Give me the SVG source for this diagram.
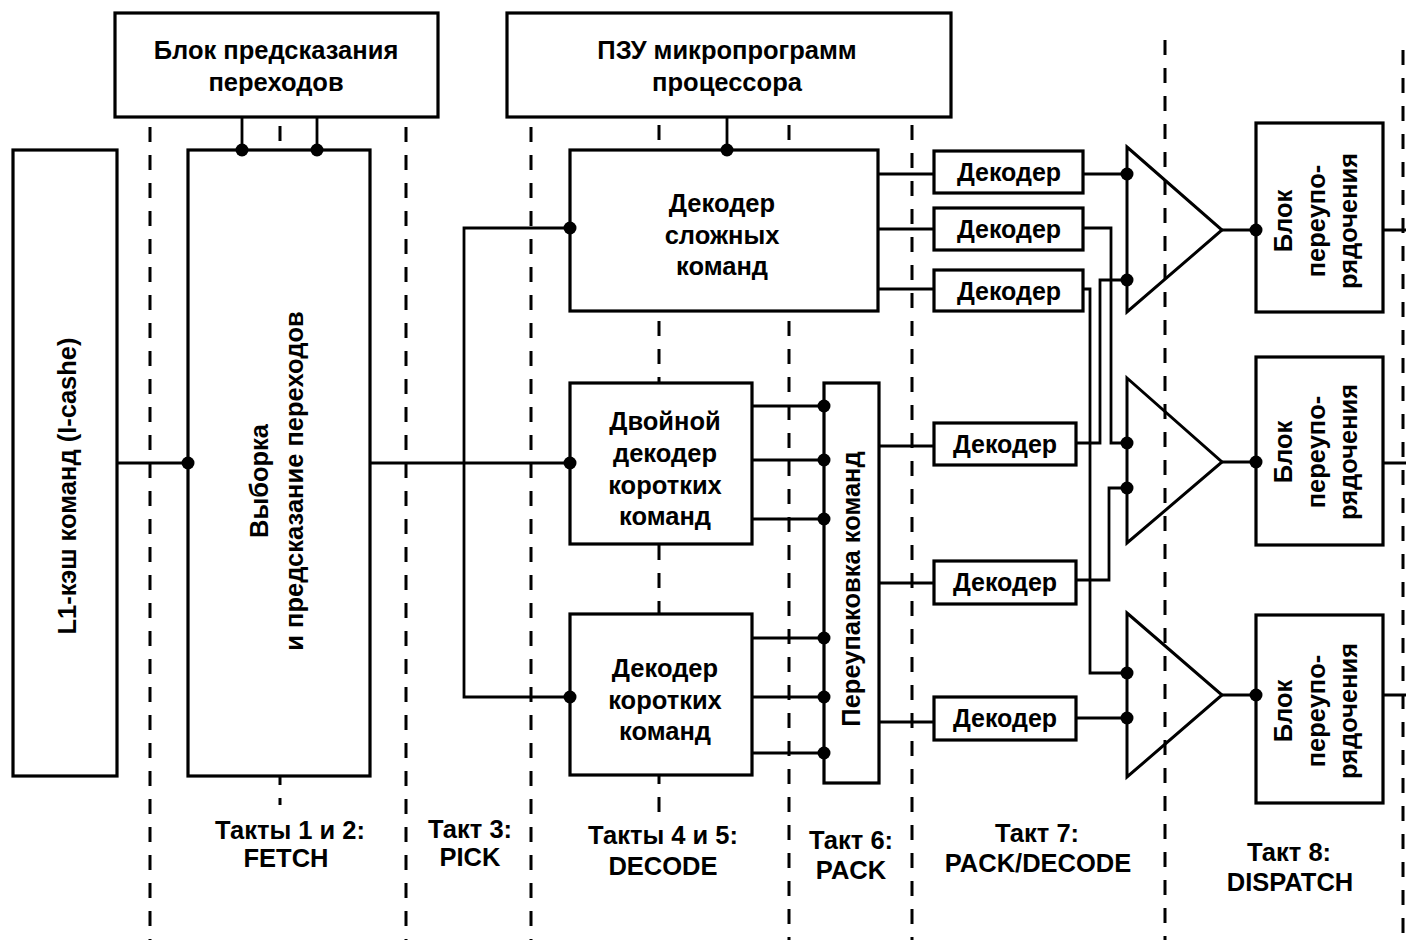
<svg xmlns="http://www.w3.org/2000/svg" width="1406" height="951" viewBox="0 0 1406 951">
<style>
.box{fill:#fff;stroke:#000;stroke-width:3.2}
.tri{fill:none;stroke:#000;stroke-width:3}
.ln{fill:none;stroke:#000;stroke-width:2.8}
.dash{fill:none;stroke:#000;stroke-width:3;stroke-dasharray:15 13}
.dot{fill:#000}
.t{font-family:"Liberation Sans",Arial,sans-serif;font-size:25.5px;font-weight:bold;text-anchor:middle;fill:#000}
.s{font-size:25px}
</style>
<rect width="1406" height="951" fill="#fff"/>
<g id="separators">
<line class="dash" x1="150" y1="127" x2="150" y2="940"/>
<line class="dash" x1="280" y1="126" x2="280" y2="805"/>
<line class="dash" x1="406" y1="127" x2="406" y2="940"/>
<line class="dash" x1="531" y1="127" x2="531" y2="940"/>
<line class="dash" x1="659" y1="125" x2="659" y2="818"/>
<line class="dash" x1="789" y1="125" x2="789" y2="940"/>
<line class="dash" x1="912" y1="125" x2="912" y2="940"/>
<line class="dash" x1="1165" y1="40" x2="1165" y2="940"/>
<line class="dash" x1="1403" y1="50" x2="1403" y2="940"/>
</g>
<g id="connectors">
<path class="ln" d="M242 116V150M317 116V150M727 116V150"/>
<path class="ln" d="M117 463H188M370 463H570"/>
<path class="ln" d="M570 228H464V697H570"/>
<path class="ln" d="M878 174H934M878 229H934M878 289H934"/>
<path class="ln" d="M752 406H824M752 460H824M752 519H824M752 638H824M752 697H824M752 753H824"/>
<path class="ln" d="M879 446H934M879 583H934M879 722H934"/>
<path class="ln" d="M1083 174H1127"/>
<path class="ln" d="M1083 228H1111V443H1127"/>
<path class="ln" d="M1083 289H1090V673H1127"/>
<path class="ln" d="M1076 443H1100V280H1127"/>
<path class="ln" d="M1076 580H1109V488H1127"/>
<path class="ln" d="M1076 718H1127"/>
<path class="ln" d="M1222 230H1256M1222 462H1256M1222 695H1256"/>
<path class="ln" d="M1383 230H1406M1383 463H1406M1383 695H1406"/>
</g>
<g id="bpu">
<rect class="box" x="115" y="13" width="323" height="104"/>
<text class="t" x="276" y="59">Блок предсказания</text>
<text class="t" x="276" y="91">переходов</text>
</g>
<g id="rom">
<rect class="box" x="507" y="13" width="444" height="104"/>
<text class="t" x="727" y="59">ПЗУ микропрограмм</text>
<text class="t" x="727" y="91">процессора</text>
</g>
<g id="l1">
<rect class="box" x="13" y="150" width="104" height="626"/>
<text class="t" transform="translate(67,486) rotate(-90)" x="0" y="9">L1-кэш команд (I-cashe)</text>
</g>
<g id="fetch">
<rect class="box" x="188" y="150" width="182" height="626"/>
<g transform="translate(276,481) rotate(-90)">
<text class="t" x="0" y="-8">Выборка</text>
<text class="t" x="0" y="27">и предсказание переходов</text>
</g>
</g>
<g id="complex-decoder">
<rect class="box" x="570" y="150" width="308" height="161"/>
<text class="t" x="722" y="212">Декодер</text>
<text class="t" x="722" y="244">сложных</text>
<text class="t" x="722" y="275">команд</text>
</g>
<g id="dual-decoder">
<rect class="box" x="570" y="383" width="182" height="161"/>
<text class="t" x="665" y="430">Двойной</text>
<text class="t" x="665" y="462">декодер</text>
<text class="t" x="665" y="494">коротких</text>
<text class="t" x="665" y="525">команд</text>
</g>
<g id="short-decoder">
<rect class="box" x="570" y="614" width="182" height="161"/>
<text class="t" x="665" y="677">Декодер</text>
<text class="t" x="665" y="709">коротких</text>
<text class="t" x="665" y="740">команд</text>
</g>
<g id="pack">
<rect class="box" x="824" y="383" width="55" height="400"/>
<text class="t" transform="translate(851,589) rotate(-90)" x="0" y="9">Переупаковка команд</text>
</g>
<g id="dec1"><rect class="box" x="934" y="151" width="149" height="42"/><text class="t s" x="1009" y="181">Декодер</text></g>
<g id="dec2"><rect class="box" x="934" y="208" width="149" height="42"/><text class="t s" x="1009" y="238">Декодер</text></g>
<g id="dec3"><rect class="box" x="934" y="270" width="149" height="41"/><text class="t s" x="1009" y="300">Декодер</text></g>
<g id="dec4"><rect class="box" x="934" y="423" width="142" height="42"/><text class="t s" x="1005" y="453">Декодер</text></g>
<g id="dec5"><rect class="box" x="934" y="561" width="142" height="43"/><text class="t s" x="1005" y="591">Декодер</text></g>
<g id="dec6"><rect class="box" x="934" y="697" width="142" height="43"/><text class="t s" x="1005" y="727">Декодер</text></g>
<g id="mux1"><polygon class="tri" points="1127,147 1222,230 1127,312"/></g>
<g id="mux2"><polygon class="tri" points="1127,378 1222,462 1127,543"/></g>
<g id="mux3"><polygon class="tri" points="1127,613 1222,695 1127,777"/></g>
<g id="rob1">
<rect class="box" x="1256" y="123" width="127" height="189"/>
<g transform="translate(1316,221) rotate(-90)">
<text class="t" x="0" y="-24">Блок</text>
<text class="t" x="0" y="9">переупо-</text>
<text class="t" x="0" y="41">рядочения</text>
</g>
</g>
<g id="rob2">
<rect class="box" x="1256" y="357" width="127" height="188"/>
<g transform="translate(1316,452) rotate(-90)">
<text class="t" x="0" y="-24">Блок</text>
<text class="t" x="0" y="9">переупо-</text>
<text class="t" x="0" y="41">рядочения</text>
</g>
</g>
<g id="rob3">
<rect class="box" x="1256" y="615" width="127" height="188"/>
<g transform="translate(1316,711) rotate(-90)">
<text class="t" x="0" y="-24">Блок</text>
<text class="t" x="0" y="9">переупо-</text>
<text class="t" x="0" y="41">рядочения</text>
</g>
</g>
<g id="dots">
<circle class="dot" cx="242" cy="150" r="6.5"/>
<circle class="dot" cx="317" cy="150" r="6.5"/>
<circle class="dot" cx="188" cy="463" r="6.5"/>
<circle class="dot" cx="727" cy="150" r="6.5"/>
<circle class="dot" cx="570" cy="228" r="6.5"/>
<circle class="dot" cx="570" cy="463" r="6.5"/>
<circle class="dot" cx="570" cy="697" r="6.5"/>
<circle class="dot" cx="824" cy="406" r="6.5"/>
<circle class="dot" cx="824" cy="460" r="6.5"/>
<circle class="dot" cx="824" cy="519" r="6.5"/>
<circle class="dot" cx="824" cy="638" r="6.5"/>
<circle class="dot" cx="824" cy="697" r="6.5"/>
<circle class="dot" cx="824" cy="753" r="6.5"/>
<circle class="dot" cx="1127" cy="174" r="6.5"/>
<circle class="dot" cx="1127" cy="280" r="6.5"/>
<circle class="dot" cx="1127" cy="443" r="6.5"/>
<circle class="dot" cx="1127" cy="488" r="6.5"/>
<circle class="dot" cx="1127" cy="673" r="6.5"/>
<circle class="dot" cx="1127" cy="718" r="6.5"/>
<circle class="dot" cx="1256" cy="230" r="6.5"/>
<circle class="dot" cx="1256" cy="462" r="6.5"/>
<circle class="dot" cx="1256" cy="695" r="6.5"/>
</g>
<g id="labels">
<text class="t" x="290" y="839">Такты 1 и 2:</text>
<text class="t" x="286" y="867">FETCH</text>
<text class="t" x="470" y="838">Такт 3:</text>
<text class="t" x="470" y="866">PICK</text>
<text class="t" x="663" y="844">Такты 4 и 5:</text>
<text class="t" x="663" y="875">DECODE</text>
<text class="t" x="851" y="849">Такт 6:</text>
<text class="t" x="851" y="879">PACK</text>
<text class="t" x="1037" y="842">Такт 7:</text>
<text class="t" x="1038" y="872">PACK/DECODE</text>
<text class="t" x="1289" y="861">Такт 8:</text>
<text class="t" x="1290" y="891">DISPATCH</text>
</g>
</svg>
